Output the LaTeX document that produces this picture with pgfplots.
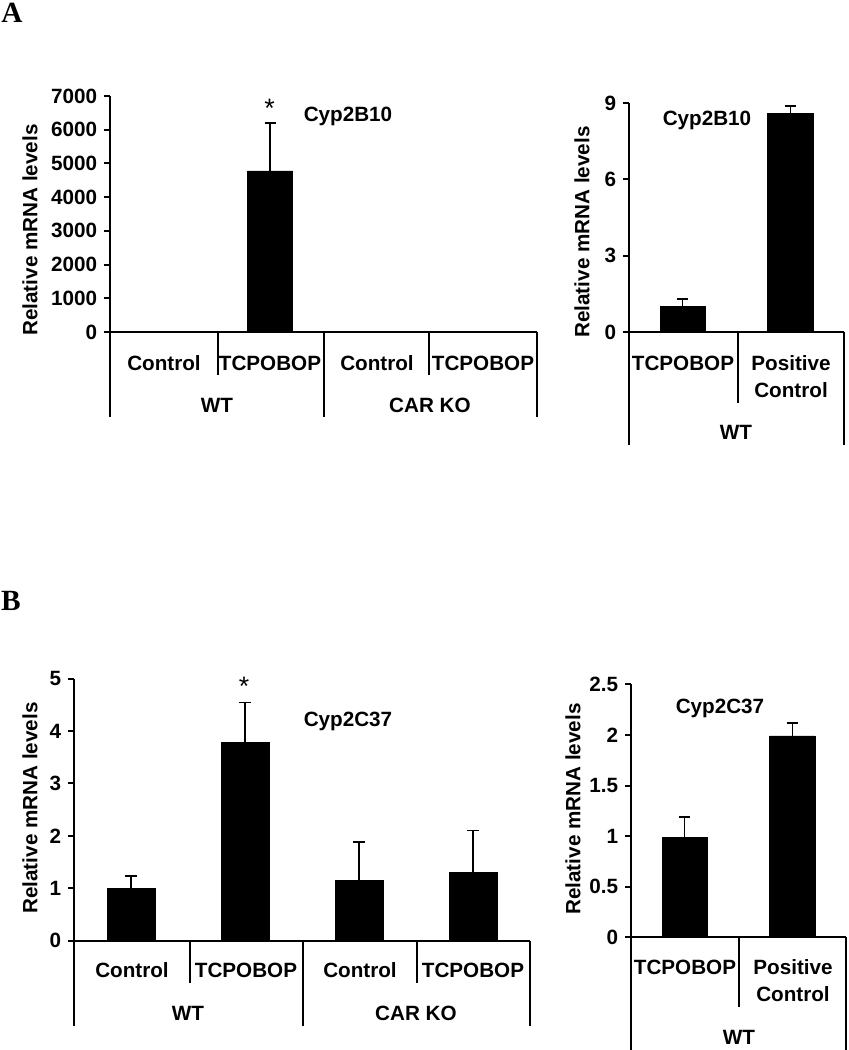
\documentclass[border=0pt]{standalone}
\usepackage{pgfplots}
\pgfplotsset{compat=1.18}
\usepackage{fontspec}
\setmainfont{Liberation Sans}
\newfontfamily\serifbf{Liberation Serif}
\pgfplotsset{
  mybar/.style={
    scale only axis, anchor=south west,
    xmin=0, ymin=0,
    axis x line*=bottom, axis y line*=left,
    axis line style={line width=1.5pt, black},
    xtick=\empty,
    tick align=outside, major tick length=4.5pt,
    every tick/.style={black, line width=1.5pt},
    /pgf/number format/assume math mode=true,
    /pgf/number format/1000 sep={},
    scaled y ticks=false,
    yticklabel style={font=\bfseries\fontsize{15.5}{18}\selectfont, inner sep=2pt, xshift=-3pt},
    ybar, bar width=0.42,
    clip=false,
  },
  mydata/.style={fill=black, draw=black,
    error bars/.cd, y dir=plus, y explicit,
    error bar style={line width=1.1pt, black},
    error mark options={black, line width=1.1pt, mark size=4.2pt, rotate=90}},
}
\begin{document}
\begin{tikzpicture}
\useasboundingbox (0,0) rectangle (636.75pt,-787.5pt);
% ---------- A left ----------
\begin{axis}[mybar, at={(82.5pt,-249pt)}, width=320.25pt, height=177pt,
  xmax=4, ymax=7000, ytick={0,1000,...,7000}]
\addplot[mydata] coordinates {(0.5,1) +- (0,0) (1.5,4780) +- (0,1420) (2.5,1) +- (0,0) (3.5,1) +- (0,0)};
\end{axis}
% ---------- A right ----------
\begin{axis}[mybar, at={(471.75pt,-249pt)}, width=161.25pt, height=171.75pt,
  xmax=2, ymax=9, ytick={0,3,6,9}]
\addplot[mydata] coordinates {(0.5,1.0) +- (0,0.3) (1.5,8.58) +- (0,0.3)};
\end{axis}
% ---------- B left ----------
\begin{axis}[mybar, at={(55.5pt,-705.5pt)}, width=342pt, height=196.5pt,
  xmax=4, ymax=5, ytick={0,1,...,5}]
\addplot[mydata] coordinates {(0.5,1.0) +- (0,0.23) (1.5,3.79) +- (0,0.76) (2.5,1.15) +- (0,0.73) (3.5,1.31) +- (0,0.79)};
\end{axis}
% ---------- B right ----------
\begin{axis}[mybar, at={(473.25pt,-703pt)}, width=161.25pt, height=189.75pt,
  xmax=2, ymax=2.5, ytick={0,0.5,...,2.5}]
\addplot[mydata] coordinates {(0.5,0.99) +- (0,0.20) (1.5,1.99) +- (0,0.13)};
\end{axis}
% ---------- decorations (pixel coordinates) ----------
\begin{scope}[x=0.75pt, y=-0.75pt, line width=1.5pt,
  every node/.style={inner sep=0pt, font=\bfseries\fontsize{15.5}{18}\selectfont}]
  % panel letters
  \node[font=\serifbf\bfseries\fontsize{22}{24}\selectfont] at (12,13) {A};
  \node[font=\serifbf\bfseries\fontsize{22}{24}\selectfont] at (11,601) {B};
  % A left
  \draw (110,332) -- (110,417); \draw (324,332) -- (324,417); \draw (537,332) -- (537,417);
  \draw (218,332) -- (218,375); \draw (429,332) -- (429,375);
  \node at (164,363) {Control};
  \node at (270,363) {TCPOBOP};
  \node at (377,363) {Control};
  \node at (483,363) {TCPOBOP};
  \node at (217,405) {WT};
  \node at (430,405) {CAR KO};
  \node at (348,116) {Cyp2B10};
  \node[font=\fontsize{20}{22}\selectfont] at (269.5,108) {*};
  \node[rotate=90] at (30,230) {Relative mRNA levels};
  % A right
  \draw (629,332) -- (629,445); \draw (844,332) -- (844,445);
  \draw (738,332) -- (738,403);
  \node at (683,363) {TCPOBOP};
  \node at (791,363) {Positive};
  \node at (791,390) {Control};
  \node at (736,432) {WT};
  \node at (707,120) {Cyp2B10};
  \node[rotate=90] at (582,232) {Relative mRNA levels};
  % B left
  \draw (74,940.7) -- (74,1026); \draw (303,940.7) -- (303,1026); \draw (530,940.7) -- (530,1026);
  \draw (190,940.7) -- (190,983); \draw (417,940.7) -- (417,983);
  \node at (132,970) {Control};
  \node at (246,970) {TCPOBOP};
  \node at (360,970) {Control};
  \node at (473,970) {TCPOBOP};
  \node at (188,1013) {WT};
  \node at (416,1013) {CAR KO};
  \node at (348,721) {Cyp2C37};
  \node[font=\fontsize{20}{22}\selectfont] at (244,686) {*};
  \node[rotate=90] at (30,808) {Relative mRNA levels};
  % B right
  \draw (631,937.3) -- (631,1050); \draw (846,937.3) -- (846,1050);
  \draw (739,937.3) -- (739,1007);
  \node at (685,967) {TCPOBOP};
  \node at (793,967) {Positive};
  \node at (793,994) {Control};
  \node at (739,1037) {WT};
  \node at (720,708) {Cyp2C37};
  \node[rotate=90] at (573,809) {Relative mRNA levels};
\end{scope}
\end{tikzpicture}
\end{document}
